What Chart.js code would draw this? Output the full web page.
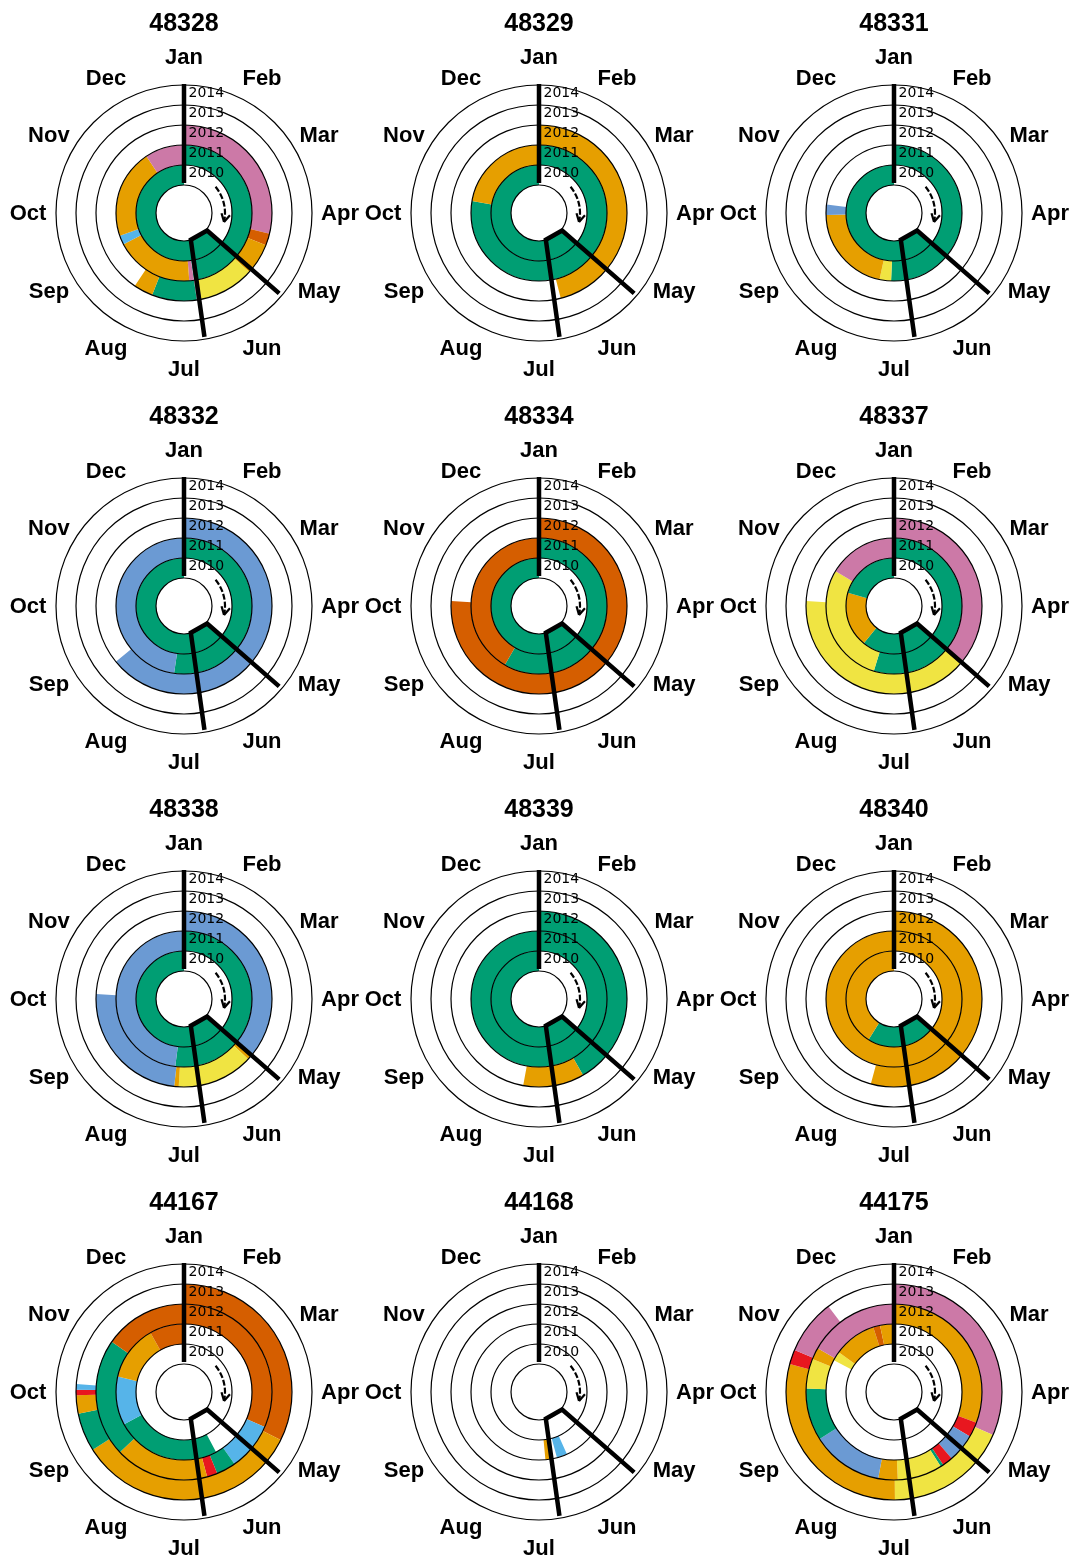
<!DOCTYPE html>
<html>
<head>
<meta charset="utf-8">
<script src="https://cdn.jsdelivr.net/npm/chart.js@4.4.0/dist/chart.umd.min.js"></script>
<style>
  body { margin: 0; background: #fff; }
  #wrap { position: relative; width: 1075px; height: 1560px; }
  #wrap canvas { position: absolute; }
</style>
</head>
<body>
<div id="wrap"></div>
<script>
// Stations in reading order
const stations = ['48328', '48329', '48331', '48332', '48334', '48337',
                  '48338', '48339', '48340', '44167', '44168', '44175'];
const years = ['2010', '2011', '2012', '2013', '2014'];
const months = ['Jan', 'Feb', 'Mar', 'Apr', 'May', 'Jun', 'Jul', 'Aug', 'Sep', 'Oct', 'Nov', 'Dec'];
const DAYS = 365;

// Class colours ('-' = no data)
const palette = {
  G: '#009E73', O: '#E69F00', P: '#CC79A7', S: '#56B4E9',
  Y: '#F0E442', V: '#D55E00', B: '#6B9AD3', R: '#E8171F',
  '-': 'rgba(0,0,0,0)'
};

// One list per year ring (2010 .. 2014): [start day, class] change points.
// Blank before the first change point, the last class runs to day 365.
const s48328 = [
  [[130, 'G']],
  [[0, 'G'], [174, 'P'], [178, 'O'], [246, 'S'], [254, 'O'], [331, 'P']],
  [[0, 'P'], [105, 'V'], [113, 'O'], [134, 'Y'], [171, 'P'], [174, 'G'], [204, 'O'], [217, '-']],
  [], []
];
const s48329 = [
  [[130, 'G']],
  [[0, 'G'], [284, 'O']],
  [[0, 'O'], [168, '-']],
  [], []
];
const s48331 = [
  [[130, 'G']],
  [[0, 'G'], [185, 'Y'], [195, 'O'], [272, 'B'], [281, '-']],
  [], [], []
];
const s48332 = [
  [[130, 'G']],
  [[0, 'G'], [191, 'B']],
  [[0, 'B'], [234, '-']],
  [], []
];
const s48334 = [
  [[130, 'G']],
  [[0, 'G'], [213, 'V']],
  [[0, 'V'], [277, '-']],
  [], []
];
const s48337 = [
  [[130, 'G'], [222, 'O'], [290, 'G']],
  [[0, 'G'], [200, 'Y'], [305, 'P']],
  [[0, 'P'], [132, 'Y'], [277, '-']],
  [], []
];
const s48338 = [
  [[130, 'G']],
  [[0, 'G'], [190, 'B']],
  [[0, 'B'], [132, 'O'], [135, 'Y'], [186, 'O'], [189, 'B'], [277, '-']],
  [], []
];
const s48339 = [
  [[130, 'G']],
  [[0, 'G']],
  [[0, 'G'], [152, 'O'], [193, '-']],
  [], []
];
const s48340 = [
  [[130, 'G'], [215, 'O']],
  [[0, 'O']],
  [[0, 'O'], [198, '-']],
  [], []
];
const s44167 = [
  [],
  [[154, 'G'], [245, 'S'], [287, 'O'], [335, 'V']],
  [[0, 'V'], [115, 'S'], [147, 'G'], [160, 'R'], [167, 'O'], [230, 'G'], [309, 'V']],
  [[0, 'V'], [118, 'O'], [241, 'G'], [262, 'O'], [272, 'R'], [275, 'S'], [278, '-']],
  []
];
const s44168 = [
  [],
  [[158, 'S'], [167, '-'], [172, 'O'], [177, '-']],
  [], [], []
];
const s44175 = [
  [],
  [[302, 'Y'], [310, 'O'], [347, 'V'], [353, 'O']],
  [[0, 'O'], [112, 'R'], [122, 'B'], [141, 'R'], [148, 'G'], [150, 'Y'], [180, 'O'], [193, 'B'], [241, 'G'], [276, 'Y'], [296, 'O'], [304, 'P']],
  [[0, 'P'], [115, 'Y'], [182, 'O'], [289, 'R'], [297, 'P'], [327, '-']],
  []
];
const stationRings = [s48328, s48329, s48331, s48332, s48334, s48337,
                      s48338, s48339, s48340, s44167, s44168, s44175];

// Guide lines as [day, ring position] (0 = hole edge, 5 = outer edge)
const janLine = [[0, 0.1], [0, 5.05]];
const seasonLine = [[173, 4.88], [168, -0.02], [129, 0.05], [132, 4.83]];
const arrowDays = [51, 104];   // direction arrow inside the 2010 ring
const arrowPos = 0.65;

// Page layout
const colX = [184, 539, 894];
const rowY = [213, 606, 999, 1392];
const CW = 355, CH = 393, CX = 177, CY = 210;

function ringDataset(changes) {
  const data = [], colors = [];
  let prev = 0, code = '-';
  changes.forEach(([day, c]) => {
    if (day > prev) { data.push(day - prev); colors.push(palette[code]); }
    prev = day; code = c;
  });
  data.push(DAYS - prev); colors.push(palette[code]);
  return { data, backgroundColor: colors, borderWidth: 0 };
}

const decor = {
  id: 'decor',
  afterDatasetsDraw(chart) {
    const ctx = chart.ctx;
    const metas = chart.getSortedVisibleDatasetMetas();
    const cx = metas[0].data[0].x, cy = metas[0].data[0].y;
    const rOut = metas[0].controller.outerRadius;
    const rIn = metas[metas.length - 1].controller.innerRadius;
    const step = (rOut - rIn) / years.length;
    const pt = (day, pos) => {
      const a = day / DAYS * 2 * Math.PI, r = rIn + pos * step;
      return [cx + r * Math.sin(a), cy - r * Math.cos(a)];
    };
    ctx.save();
    // ring outlines
    ctx.strokeStyle = '#000';
    ctx.lineWidth = 1.2;
    const radii = [rIn].concat(metas.map(m => m.controller.outerRadius));
    radii.forEach(r => { ctx.beginPath(); ctx.arc(cx, cy, r, 0, 2 * Math.PI); ctx.stroke(); });

    // thick guide lines
    ctx.lineWidth = 4.5;
    ctx.lineJoin = 'miter';
    [janLine, seasonLine].forEach(line => {
      ctx.beginPath();
      line.forEach(([d, p], i) => { const [x, y] = pt(d, p); i ? ctx.lineTo(x, y) : ctx.moveTo(x, y); });
      ctx.stroke();
    });

    // direction arrow
    const ra = rIn + arrowPos * step;
    const a0 = arrowDays[0] / DAYS * 2 * Math.PI, a1 = arrowDays[1] / DAYS * 2 * Math.PI;
    ctx.lineWidth = 2.2;
    ctx.setLineDash([6, 2]);
    ctx.beginPath();
    ctx.arc(cx, cy, ra, a0 - Math.PI / 2, a1 - Math.PI / 2);
    ctx.stroke();
    ctx.setLineDash([]);
    const [tx, ty] = pt(arrowDays[1], arrowPos);
    const ux = Math.cos(a1), uy = Math.sin(a1);
    ctx.beginPath();
    [0.5, -0.5].forEach(s => {
      const bx = -ux * Math.cos(s) + uy * Math.sin(s);
      const by = -uy * Math.cos(s) - ux * Math.sin(s);
      ctx.moveTo(tx, ty);
      ctx.lineTo(tx + bx * 9, ty + by * 9);
    });
    ctx.stroke();

    // year labels
    ctx.fillStyle = '#000';
    ctx.font = '14px "DejaVu Sans"';
    ctx.textAlign = 'left';
    ctx.textBaseline = 'middle';
    years.forEach((y, k) => {
      ctx.fillText(y, cx + 4.5, cy - (rIn + (k + 0.5) * step) - 2);
    });

    // month labels
    ctx.font = 'bold 22px "Liberation Sans", Arial, sans-serif';
    ctx.textAlign = 'center';
    const rm = rOut + 28;
    months.forEach((m, i) => {
      const a = i / 12 * 2 * Math.PI;
      ctx.fillText(m, cx + rm * Math.sin(a), cy - rm * Math.cos(a) + 1);
    });
    ctx.restore();
  }
};

const wrap = document.getElementById('wrap');
stations.forEach((name, idx) => {
  const canvas = document.createElement('canvas');
  canvas.width = CW;
  canvas.height = CH;
  canvas.style.left = (colX[idx % 3] - CX) + 'px';
  canvas.style.top = (rowY[Math.floor(idx / 3)] - CY) + 'px';
  wrap.appendChild(canvas);

  const rings = stationRings[idx].slice();
  while (rings.length < years.length) rings.push([]);

  new Chart(canvas, {
    type: 'doughnut',
    data: {
      labels: [],
      datasets: rings.slice().reverse().map(ringDataset)
    },
    options: {
      responsive: false,
      animation: false,
      events: [],
      cutout: 28,
      layout: { padding: { left: CX - 128, right: CW - CX - 128, top: 4, bottom: CH - CY - 128 } },
      plugins: {
        legend: { display: false },
        tooltip: { enabled: false },
        title: {
          display: true,
          text: name,
          color: '#000',
          font: { family: '"Liberation Sans", Arial, sans-serif', size: 25, weight: 'bold', lineHeight: 1.2 },
          padding: { top: 2, bottom: 46 }
        }
      }
    },
    plugins: [decor]
  });
});
</script>
</body>
</html>
